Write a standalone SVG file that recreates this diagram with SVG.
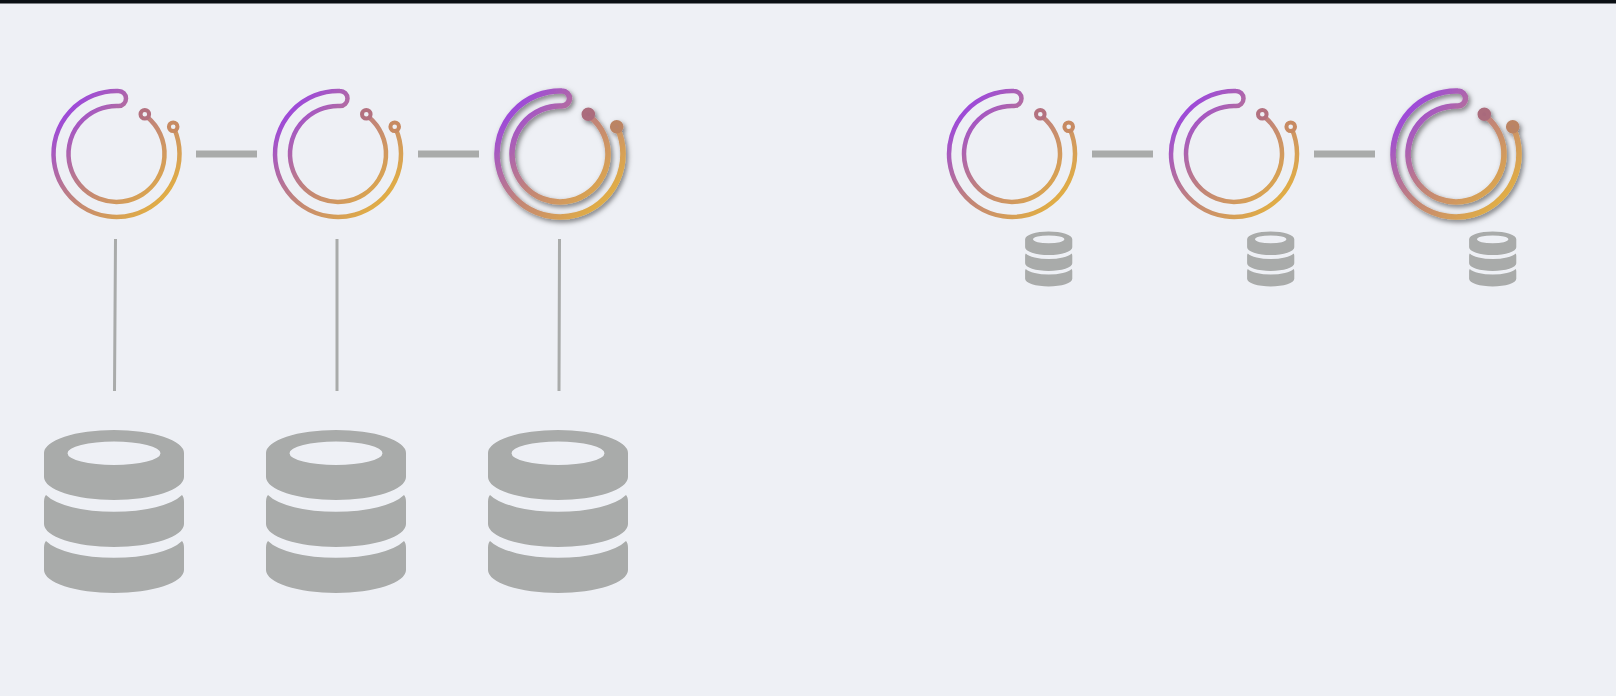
<svg xmlns="http://www.w3.org/2000/svg" width="1616" height="696" viewBox="0 0 1616 696">
<style>
.ring{fill:none;stroke:url(#g);stroke-width:4.500;stroke-linecap:round}
.dot{fill:#eef0f5;stroke-width:4}
.d1{stroke:#b3717f}
.d2{stroke:#c78a62}
.bring{fill:none;stroke:url(#g);stroke-width:5.600;stroke-linecap:round}
.b1{fill:#a86a7c;stroke:#ab6c7c;stroke-width:5}
.b2{fill:#b8836a;stroke:#bb8464;stroke-width:5}
.link{stroke:#a9abaa;stroke-width:7;fill:none}
.drop{stroke:#a9abaa;stroke-width:3;fill:none}
.db{fill:#a9abaa}
</style>
<defs>
<linearGradient id="g" gradientUnits="userSpaceOnUse" x1="-55" y1="-45" x2="50" y2="55">
<stop offset="0" stop-color="#9a45e2"/><stop offset=".5" stop-color="#c18478"/><stop offset="1" stop-color="#e5b33e"/>
</linearGradient>
<filter id="soft" x="-10%" y="-10%" width="120%" height="120%">
<feGaussianBlur stdDeviation=".6"/>
</filter>
<filter id="softs" x="-10%" y="-10%" width="120%" height="120%">
<feGaussianBlur stdDeviation="2"/>
</filter>
<filter id="sh" x="-20%" y="-20%" width="140%" height="140%">
<feGaussianBlur in="SourceGraphic" stdDeviation=".6" result="b"/>
<feDropShadow in="b" dx="2" dy="2.500" stdDeviation="2.800" flood-color="#000" flood-opacity=".5"/>
</filter>
<g id="logo">
<path class="ring" d="M57.600-25.600A63 63 0 1 1 2-63A7.500 7.500 0 0 1 2-48A48 48 0 1 0 31-36.700"/>
<circle class="dot d1" cx="28.300" cy="-39.700" r="4.300"/>
<circle class="dot d2" cx="56.700" cy="-27.300" r="4.300"/>
</g>
<g id="logob">
<path class="bring" d="M57.600-25.600A63 63 0 1 1 2-63A7.500 7.500 0 0 1 2-48A48 48 0 1 0 31-36.700"/>
<circle class="b1" cx="28.300" cy="-39.700" r="4.300"/>
<circle class="b2" cx="56.700" cy="-27.300" r="4.300"/>
</g>
<g id="cyl">
<path class="db" fill-rule="evenodd" d="M-70 23A70 23 0 0 1 70 23V47A70 23 0 0 1-70 47ZM-46.500 23.300A46.500 11.700 0 0 0 46.500 23.300A46.500 11.700 0 0 0-46.500 23.300Z"/>
<path class="db" d="M-68 65A72 25 0 0 0 68 65Q70 67 70 72V94A70 23 0 0 1-70 94V72Q-70 67-68 65Z"/>
<path class="db" d="M-68 111A72 25 0 0 0 68 111Q70 113 70 118V140A70 23 0 0 1-70 140V118Q-70 113-68 111Z"/>
</g>
</defs>
<rect width="1616" height="696" fill="#eef0f5"/>
<rect width="1616" height="3.500" fill="#0b0f14"/>
<g id="connectors">
<path class="link" d="M196 154H257M418 154H479M1092 154H1153M1314 154H1375"/>
<path class="drop" d="M115.500 239L114.500 391M337 239V391M559.500 239L559 391"/>
</g>
<g id="node-a1" filter="url(#soft)" transform="translate(116.500 154)"><use href="#logo"/></g>
<g id="node-a2" filter="url(#soft)" transform="translate(338 154)"><use href="#logo"/></g>
<g id="node-a3" transform="translate(560 154)" filter="url(#sh)"><use href="#logob"/></g>
<g id="node-b1" filter="url(#soft)" transform="translate(1012 154)"><use href="#logo"/></g>
<g id="node-b2" filter="url(#soft)" transform="translate(1234 154)"><use href="#logo"/></g>
<g id="node-b3" transform="translate(1456 154)" filter="url(#sh)"><use href="#logob"/></g>
<g id="db-a1" filter="url(#soft)" transform="translate(114 430)"><use href="#cyl"/></g>
<g id="db-a2" filter="url(#soft)" transform="translate(336 430)"><use href="#cyl"/></g>
<g id="db-a3" filter="url(#soft)" transform="translate(558 430)"><use href="#cyl"/></g>
<g id="db-b1" filter="url(#softs)" transform="translate(1048.700 231.500) scale(.337)"><use href="#cyl"/></g>
<g id="db-b2" filter="url(#softs)" transform="translate(1270.700 231.500) scale(.337)"><use href="#cyl"/></g>
<g id="db-b3" filter="url(#softs)" transform="translate(1492.700 231.500) scale(.337)"><use href="#cyl"/></g>
</svg>
